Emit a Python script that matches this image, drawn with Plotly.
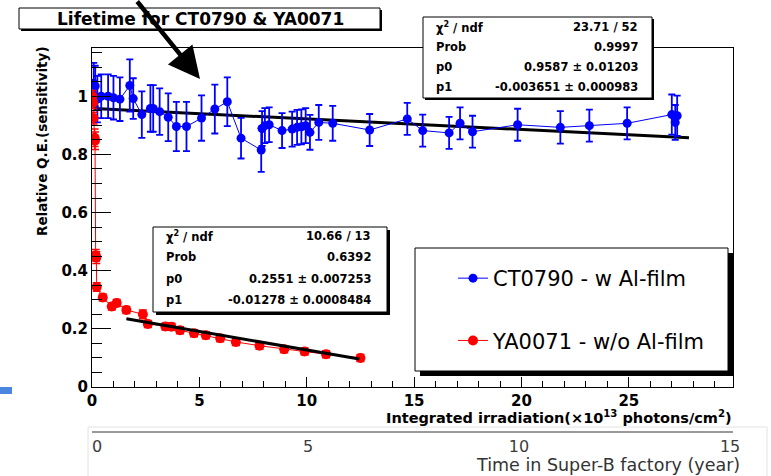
import numpy as np
import plotly.graph_objects as go

# ---------------- data ----------------
ct_x = [0.08, 0.15, 0.25, 0.43, 0.75, 1.0, 1.3, 1.76, 1.92, 2.32, 2.72, 2.85, 3.15, 3.55,
        3.93, 4.4, 5.1, 5.72, 6.3, 6.94, 7.88, 7.92, 8.05, 8.25, 8.85, 9.32, 9.55, 9.75,
        9.95, 10.15, 10.56, 11.21, 12.93, 14.68, 15.4, 16.63, 17.14, 17.72, 19.82, 21.81,
        23.16, 24.92, 27.0, 27.16, 27.25]
ct_y = [1.045, 1.035, 0.99, 1.0, 1.0, 0.995, 0.99, 1.037, 0.992, 0.937, 0.958, 0.958, 0.947,
        0.928, 0.896, 0.896, 0.925, 0.956, 0.981, 0.856, 0.815, 0.889, 0.899, 0.902, 0.882,
        0.887, 0.893, 0.895, 0.899, 0.876, 0.91, 0.907, 0.884, 0.922, 0.882, 0.874, 0.907,
        0.878, 0.902, 0.893, 0.899, 0.907, 0.937, 0.91, 0.933]
ct_err = [0.07, 0.07, 0.08, 0.075, 0.075, 0.075, 0.075, 0.09, 0.07, 0.08, 0.08, 0.08, 0.08,
          0.082, 0.085, 0.085, 0.078, 0.084, 0.084, 0.07, 0.075, 0.06, 0.06, 0.06, 0.06,
          0.06, 0.06, 0.06, 0.06, 0.06, 0.06, 0.06, 0.055, 0.055, 0.055, 0.055, 0.055,
          0.055, 0.055, 0.056, 0.055, 0.055, 0.069, 0.06, 0.069]

ya_x = [0.02, 0.05, 0.07, 0.12, 0.14, 0.17, 0.2, 0.22, 0.5, 0.92, 1.15, 1.6, 2.37, 2.6,
        3.42, 3.7, 4.1, 4.75, 5.3, 5.97, 6.7, 7.8, 8.95, 9.9, 10.9, 12.5]
ya_y = [1.0, 0.978, 0.925, 0.857, 0.847, 0.453, 0.445, 0.344, 0.308, 0.277, 0.289, 0.265,
        0.25, 0.217, 0.208, 0.207, 0.195, 0.185, 0.178, 0.168, 0.155, 0.142, 0.13, 0.122,
        0.113, 0.1]
ya_err = [0.02, 0.02, 0.02, 0.03, 0.03, 0.02, 0.02, 0.015, 0.012, 0.012, 0.012, 0.012,
          0.015, 0.012, 0.012, 0.012, 0.012, 0.012, 0.012, 0.012, 0.012, 0.012, 0.012,
          0.012, 0.012, 0.012]

ct_fit_p = [0.9587, -0.003651]
ct_fit_range = [0.1, 27.8]
ya_fit_p = [0.2551, -0.01278]
ya_fit_range = [1.6, 12.45]

stat_labels = ["χ<sup>2</sup> / ndf", "Prob", "p0", "p1"]
ct_stat_values = ["23.71 / 52", "0.9997", "0.9587 ± 0.01203", "-0.003651 ± 0.000983"]
ya_stat_values = ["10.66 / 13", "0.6392", "0.2551 ± 0.007253", "-0.01278 ± 0.0008484"]

ct_name = "CT0790 - w Al-film"
ya_name = "YA0071 - w/o Al-film"
title_text = "Lifetime for CT0790 & YA0071"
y_title = "Relative Q.E.(sensitivity)"
x_title = "Integrated irradiation(×10<sup>13</sup> photons/cm<sup>2</sup>)"
x2_title = "Time in Super-B factory (year)"

x_ticks = [0, 5, 10, 15, 20, 25]
y_ticks = [0, 0.2, 0.4, 0.6, 0.8, 1]
y_tick_text = ["0", "0.2", "0.4", "0.6", "0.8", "1"]
year_ticks = [0, 5, 10, 15]

# ---------------- geometry helpers (pixels -> paper) ----------------
W, H = 771, 476
L, R, T, B = 92, 733, 48, 432
PLOT_BOTTOM = 387


def fx(px):
    return (px - L) / (R - L)


def fy(py):
    return (B - py) / (B - T)


BOLD = dict(family="DejaVu Sans", weight="bold", color="black")

fig = go.Figure()


def fit_line(p, rng):
    xs = np.array(rng, dtype=float)
    return xs, p[0] + p[1] * xs


# blue fit (under blue data)
fx_ct, fy_ct = fit_line(ct_fit_p, ct_fit_range)
fig.add_trace(go.Scatter(x=fx_ct, y=fy_ct, mode="lines", line=dict(color="black", width=3),
                         showlegend=False, hoverinfo="skip"))

fig.add_trace(go.Scatter(
    x=ct_x, y=ct_y, name=ct_name, mode="lines+markers",
    line=dict(color="blue", width=1), marker=dict(color="blue", size=9),
    error_y=dict(type="data", array=ct_err, color="blue", thickness=1.8, width=3.5),
    legendgroup="a"))

fig.add_trace(go.Scatter(
    x=ya_x, y=ya_y, name=ya_name, mode="lines+markers",
    line=dict(color="red", width=1), marker=dict(color="red", size=10),
    error_y=dict(type="data", array=ya_err, color="red", thickness=1.5, width=4),
    legendgroup="b"))

fx_ya, fy_ya = fit_line(ya_fit_p, ya_fit_range)
fig.add_trace(go.Scatter(x=fx_ya, y=fy_ya, mode="lines", line=dict(color="black", width=3),
                         showlegend=False, hoverinfo="skip"))

# trace that carries the secondary (time) axis
fig.add_trace(go.Scatter(x=[year_ticks[0], year_ticks[-1]], y=[None, None], xaxis="x2",
                         mode="markers", showlegend=False, hoverinfo="skip"))

fig.update_layout(
    width=W, height=H,
    margin=dict(l=L, r=W - R, t=T, b=H - B, pad=0),
    paper_bgcolor="white", plot_bgcolor="white",
    xaxis=dict(range=[0, 29.85], tickvals=x_ticks, showgrid=False, zeroline=False,
               showline=True, linecolor="black", linewidth=1, mirror=True,
               ticks="inside", ticklen=10, tickcolor="black", tickwidth=1,
               minor=dict(dtick=1, ticks="inside", ticklen=6, tickcolor="black"),
               tickfont=dict(size=15, **BOLD)),
    yaxis=dict(range=[0, 1.166], domain=[fy(PLOT_BOTTOM), 1], tickvals=y_ticks,
               ticktext=y_tick_text, showgrid=False, zeroline=False,
               showline=True, linecolor="black", linewidth=1, mirror=True,
               ticks="inside", ticklen=19, tickcolor="black", tickwidth=1,
               minor=dict(dtick=0.05, ticks="inside", ticklen=10, tickcolor="black"),
               tickfont=dict(size=15, **BOLD)),
    xaxis2=dict(overlaying="x", anchor="free", position=0, side="bottom",
                range=[-0.118, 15.07], tickvals=year_ticks, showgrid=False,
                zeroline=False, showline=True, linecolor="#9a9a9a", linewidth=2,
                ticks="", tickfont=dict(family="DejaVu Sans", size=16, color="#3c3c3c")),
    legend=dict(x=fx(453), y=fy(258), xanchor="left", yanchor="top",
                bgcolor="rgba(0,0,0,0)", borderwidth=0, tracegroupgap=32,
                traceorder="grouped",
                font=dict(family="DejaVu Sans", size=21, color="black")),
    showlegend=True,
)

shapes = []


def box(x0, y0, x1, y1, shadow):
    if shadow:
        shapes.append(dict(type="rect", xref="paper", yref="paper", layer="above",
                           x0=fx(x0 + shadow), x1=fx(x1 + shadow),
                           y0=fy(y0 + shadow), y1=fy(y1 + shadow),
                           fillcolor="black", line=dict(width=0)))
    shapes.append(dict(type="rect", xref="paper", yref="paper", layer="above",
                       x0=fx(x0), x1=fx(x1), y0=fy(y0), y1=fy(y1),
                       fillcolor="white", line=dict(color="black", width=1)))


box(19, 8, 380, 29, 2)
box(423, 17, 652, 98, 2)
box(153, 227, 387, 312, 3)
box(415, 248, 728, 371, 5)

# faint frame of the pasted time-axis strip
shapes.append(dict(type="rect", xref="paper", yref="paper", layer="below",
                   x0=fx(88), x1=fx(767), y0=fy(427), y1=fy(490),
                   line=dict(color="#e2e2e2", width=1)))
# small blue mark on the left
shapes.append(dict(type="rect", xref="paper", yref="paper", layer="above",
                   x0=fx(0), x1=fx(12), y0=fy(394), y1=fy(387),
                   fillcolor="#4a86e0", line=dict(width=0)))
fig.update_layout(shapes=shapes)

ann = []
ann.append(dict(text=title_text, x=fx(200), y=fy(19), xref="paper", yref="paper",
                showarrow=False, xanchor="center", yanchor="middle",
                font=dict(size=17, **BOLD)))


def stat_box(xl, xr, rows_y, values):
    for lab, val, yy in zip(stat_labels, values, rows_y):
        ann.append(dict(text=lab, x=fx(xl), y=fy(yy), xref="paper", yref="paper",
                        showarrow=False, xanchor="left", yanchor="middle",
                        font=dict(size=11.5, **BOLD)))
        ann.append(dict(text=val, x=fx(xr), y=fy(yy), xref="paper", yref="paper",
                        showarrow=False, xanchor="right", yanchor="middle",
                        font=dict(size=11.5, **BOLD)))


stat_box(434, 640, [27, 47, 67, 87], ct_stat_values)
stat_box(164, 373, [236, 257, 279, 300], ya_stat_values)

ann.append(dict(text=y_title, x=fx(42), y=fy(141), xref="paper", yref="paper",
                showarrow=False, textangle=-90, xanchor="center", yanchor="middle",
                font=dict(size=13.5, **BOLD)))
ann.append(dict(text=x_title, x=fx(734), y=fy(417), xref="paper", yref="paper",
                showarrow=False, xanchor="right", yanchor="middle",
                font=dict(size=14.5, **BOLD)))
ann.append(dict(text=x2_title, x=fx(741), y=fy(465), xref="paper", yref="paper",
                showarrow=False, xanchor="right", yanchor="middle", borderpad=0,
                font=dict(family="DejaVu Sans", size=17.5, color="#333333")))
# arrow
ann.append(dict(text="", x=fx(200), y=fy(79), xref="paper", yref="paper",
                showarrow=True, ax=-64, ay=-86, axref="pixel", ayref="pixel",
                arrowhead=2, arrowsize=1.4, arrowwidth=4.5, arrowcolor="black",
                standoff=0, startstandoff=0))
fig.update_layout(annotations=ann)

fig.write_html("out.html")
